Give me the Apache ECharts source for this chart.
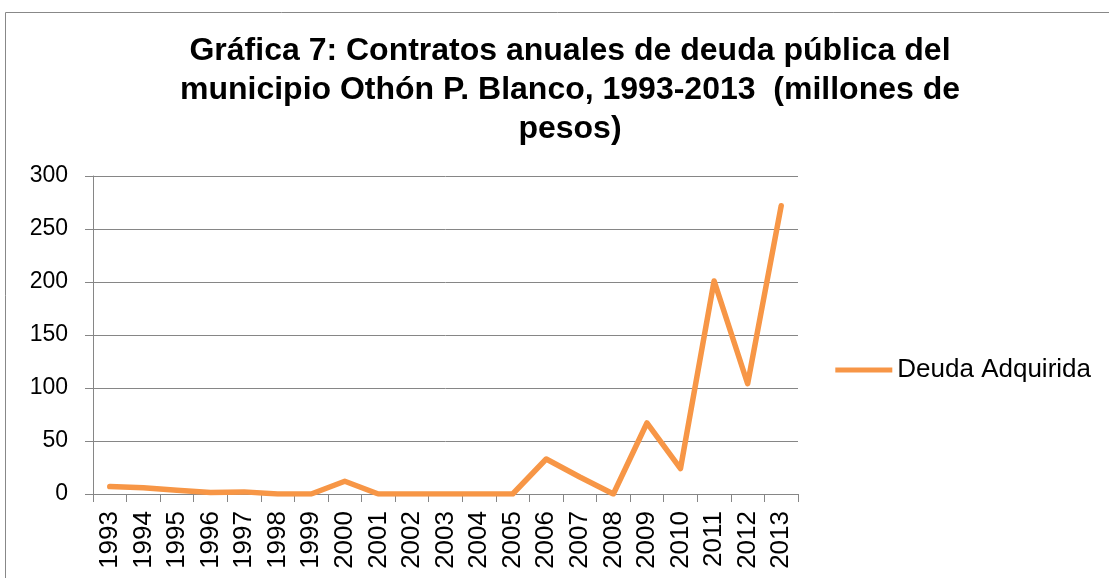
<!DOCTYPE html>
<html>
<head>
<meta charset="utf-8">
<script src="https://cdn.jsdelivr.net/npm/echarts@6/dist/echarts.min.js"></script>
<style>
  html, body { margin: 0; padding: 0; background: #fff; }
  #main { width: 1109px; height: 578px; }
</style>
</head>
<body>
<div id="main"></div>
<script>
// data
const years = ['1993', '1994', '1995', '1996', '1997', '1998', '1999', '2000', '2001', '2002', '2003',
  '2004', '2005', '2006', '2007', '2008', '2009', '2010', '2011', '2012', '2013'];
const deuda = [7, 6, 3.5, 1.5, 2, 0, 0, 12, 0, 0, 0, 0, 0, 33, 16, 0, 67, 24, 201, 104, 272];
const yTicks = [0, 50, 100, 150, 200, 250, 300];

const chart = echarts.init(document.getElementById('main'), null, { renderer: 'canvas' });

const option = {
  backgroundColor: '#fff',
  animation: false,
  textStyle: { fontFamily: 'Liberation Sans, Arial, sans-serif' },
  graphic: [{
    type: 'rect',
    shape: { x: 5.5, y: 12.5, width: 1110, height: 580 },
    style: { fill: 'none', stroke: '#888', lineWidth: 1 },
    silent: true
  }],
  title: {
    text: 'Gráfica 7: Contratos anuales de deuda pública del\nmunicipio Othón P. Blanco, 1993-2013  (millones de\npesos)',
    left: 565,
    top: 27,
    textAlign: 'center',
    textStyle: {
      fontFamily: 'Liberation Sans, Arial, sans-serif',
      fontSize: 32,
      fontWeight: 'bold',
      color: '#000',
      lineHeight: 39
    }
  },
  legend: {
    data: ['Deuda Adquirida'],
    right: 13,
    top: 352,
    orient: 'vertical',
    icon: 'rect',
    itemWidth: 57,
    itemHeight: 5,
    itemGap: 6,
    textStyle: { fontSize: 26, color: '#000' }
  },
  grid: { left: 93, right: 311, top: 176, bottom: 84, containLabel: false },
  xAxis: {
    type: 'category',
    data: years,
    boundaryGap: true,
    axisLine: { lineStyle: { color: '#868686', width: 1 } },
    axisTick: { show: true, length: 8, lineStyle: { color: '#868686' } },
    axisLabel: { rotate: 90, fontSize: 26, color: '#000', margin: 17, interval: 0 }
  },
  yAxis: {
    type: 'value',
    min: yTicks[0],
    max: yTicks[yTicks.length - 1],
    interval: 50,
    axisLine: { show: true, lineStyle: { color: '#868686', width: 1 } },
    axisTick: { show: true, length: 8, inside: false, lineStyle: { color: '#868686' } },
    splitLine: { show: true, lineStyle: { color: '#868686', width: 1 } },
    axisLabel: { fontSize: 23, color: '#000', margin: 25 }
  },
  series: [{
    name: 'Deuda Adquirida',
    type: 'line',
    data: deuda,
    symbol: 'none',
    lineStyle: { color: '#F79646', width: 5.5, cap: 'round', join: 'round' },
    itemStyle: { color: '#F79646' }
  }]
};

chart.setOption(option);
</script>
</body>
</html>
